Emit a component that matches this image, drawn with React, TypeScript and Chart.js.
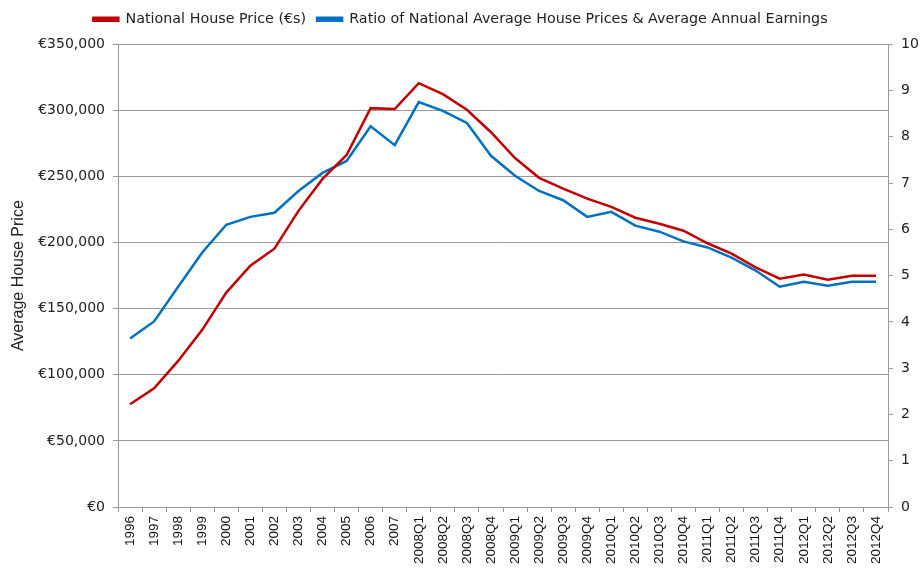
import React, { useEffect, useRef } from "react";
import { Chart, registerables } from "chart.js";

Chart.register(...registerables);

const categories = [
  "1996", "1997", "1998", "1999", "2000", "2001", "2002", "2003", "2004", "2005", "2006", "2007",
  "2008Q1", "2008Q2", "2008Q3", "2008Q4",
  "2009Q1", "2009Q2", "2009Q3", "2009Q4",
  "2010Q1", "2010Q2", "2010Q3", "2010Q4",
  "2011Q1", "2011Q2", "2011Q3", "2011Q4",
  "2012Q1", "2012Q2", "2012Q3", "2012Q4",
];

const housePrice = [
  77700, 89800, 110500, 134000, 162200, 182500, 195400, 224000, 248200, 266300, 301700, 301000,
  320600, 312300, 300500, 283500,
  264000, 249000, 240800, 233300,
  227000, 218800, 214200, 209000,
  199500, 191600, 181200, 172700,
  175800, 172000, 175000, 175000,
];

const ratio = [
  3.64, 4.01, 4.76, 5.5, 6.1, 6.27, 6.36, 6.83, 7.22, 7.48, 8.23, 7.82,
  8.75, 8.56, 8.3, 7.59,
  7.16, 6.83, 6.63, 6.27,
  6.38, 6.08, 5.95, 5.74,
  5.61, 5.39, 5.11, 4.76,
  4.87, 4.78, 4.87, 4.87,
];

const seriesNames = [
  "National House Price (€s)",
  "Ratio of National Average House Prices & Average Annual Earnings",
];

export default function App() {
  const ref = useRef<HTMLCanvasElement | null>(null);

  useEffect(() => {
    document.body.style.margin = "0";
    const ctx = ref.current!;
    const gridColor = "#9a9a9a";
    const chart = new Chart(ctx, {
      type: "line",
      data: {
        labels: categories,
        datasets: [
          {
            label: seriesNames[0],
            data: housePrice,
            borderColor: "#C00000",
            backgroundColor: "#C00000",
            borderWidth: 2.5,
            pointRadius: 0,
            tension: 0,
            yAxisID: "y",
          },
          {
            label: seriesNames[1],
            data: ratio,
            borderColor: "#0070C0",
            backgroundColor: "#0070C0",
            borderWidth: 2.5,
            pointRadius: 0,
            tension: 0,
            yAxisID: "y1",
          },
        ],
      },
      options: {
        animation: false,
        responsive: false,
        maintainAspectRatio: false,
        layout: { padding: { top: 1, left: 0, right: 0, bottom: 0 } },
        plugins: {
          tooltip: { enabled: false },
          title: {
            display: true,
            text: " ",
            weight: 100,
            position: "top",
            font: { size: 8, lineHeight: 1 },
            padding: 0,
          } as any,
          legend: {
            position: "top",
            labels: {
              boxWidth: 25,
              boxHeight: 3,
              padding: 11,
              color: "#222",
              font: { family: "DejaVu Sans", size: 14.3 },
            },
          },
        },
        scales: {
          x: {
            offset: true,
            afterFit: (s: any) => { s.height = 65; },
            grid: {
              offset: true,
              drawOnChartArea: false,
              drawTicks: true,
              tickLength: 5,
              color: gridColor,
            },
            border: { color: gridColor },
            ticks: {
              autoSkip: false,
              maxRotation: 90,
              minRotation: 90,
              color: "#111",
              font: { family: "Liberation Sans", size: 13.5 },
              padding: 4,
            },
          },
          y: {
            position: "left",
            min: 0,
            max: 350000,
            afterFit: (s: any) => { s.width = 118; },
            grid: { color: gridColor, tickLength: 5 },
            border: { color: gridColor },
            ticks: {
              stepSize: 50000,
              color: "#222",
              font: { family: "DejaVu Sans", size: 14 },
              padding: 8,
              callback: (v: any) => "€" + Number(v).toLocaleString("en-US"),
            },
            title: {
              display: true,
              text: "Average House Price",
              color: "#222",
              font: { family: "Liberation Sans", size: 16 },
              padding: { top: 9, bottom: 0 },
            },
          },
          y1: {
            position: "right",
            min: 0,
            max: 10,
            afterFit: (s: any) => { s.width = 33; },
            grid: { drawOnChartArea: false, color: gridColor, tickLength: 5 },
            border: { color: gridColor },
            ticks: {
              stepSize: 1,
              color: "#222",
              font: { family: "DejaVu Sans", size: 14 },
              padding: 8,
            },
          },
        },
      },
    });
    return () => chart.destroy();
  }, []);

  return (
    <div style={{ width: 921, height: 572 }}>
      <canvas ref={ref} width={921} height={572} />
    </div>
  );
}
